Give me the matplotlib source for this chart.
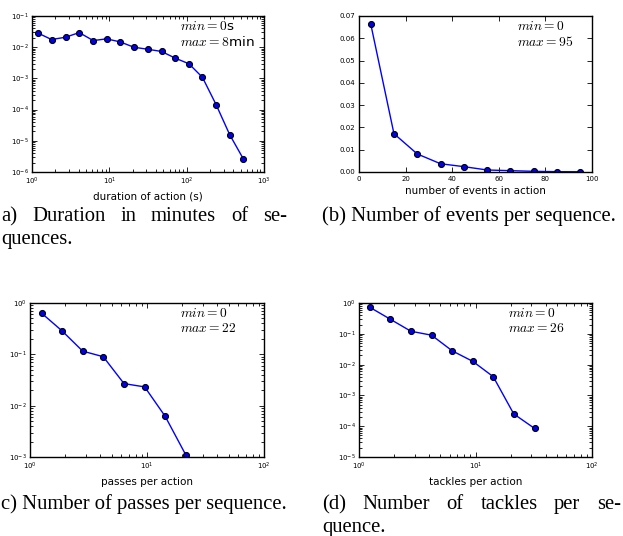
import matplotlib
matplotlib.use("Agg")
import matplotlib.pyplot as plt
from matplotlib.ticker import LogLocator, FixedLocator, FormatStrFormatter

plt.rcParams['mathtext.fontset'] = 'cm'
plt.rcParams['font.family'] = ['DejaVu Sans']

# ---- data ----
dur_x = [1.21, 1.79, 2.72, 4.08, 6.19, 9.2, 13.8, 20.7, 31.2, 47.3, 71.1, 107, 160, 240, 361, 542]
dur_y = [0.028, 0.0176, 0.0209, 0.0294, 0.0163, 0.0185, 0.0148, 0.0100, 0.0086, 0.0073,
         0.00446, 0.00294, 0.00108, 1.45e-4, 1.55e-5, 2.6e-6]

ev_x = [5, 15, 25, 35, 45, 55, 65, 75, 85, 95]
ev_y = [0.0666, 0.0172, 0.0081, 0.0037, 0.0024, 0.0009, 0.0006, 0.0003, 0.00015, 0.0001]

pass_x = [1.26, 1.88, 2.82, 4.23, 6.36, 9.55, 14.3, 21.4]
pass_y = [0.63, 0.286, 0.1155, 0.0898, 0.0269, 0.0232, 0.0062, 0.00111]

tack_x = [1.24, 1.86, 2.79, 4.2, 6.31, 9.49, 14.2, 21.3, 32.1]
tack_y = [0.724, 0.296, 0.121, 0.090, 0.028, 0.0127, 0.00405, 2.5e-4, 8.5e-5]

xlabels = ["duration of action (s)", "number of events in action",
           "passes per action", "tackles per action"]
ann = [(r"$min=0$s", r"$max=8$min"), (r"$min=0$", r"$max=95$"),
       (r"$min=0$", r"$max=22$"), (r"$min=0$", r"$max=26$")]

W, H = 623, 536
fig = plt.figure(figsize=(W / 100, H / 100), dpi=100)
fig.patch.set_facecolor('white')


def px_axes(l, t, r, b):
    return fig.add_axes([l / W, 1 - b / H, (r - l) / W, (b - t) / H])


axa = px_axes(32, 16, 264, 172)
axb = px_axes(359, 16, 592, 172)
axc = px_axes(30, 303, 264, 457)
axd = px_axes(359, 303, 592, 457)

series = [(axa, dur_x, dur_y), (axb, ev_x, ev_y), (axc, pass_x, pass_y), (axd, tack_x, tack_y)]
for i, (ax, x, y) in enumerate(series):
    ax.plot(x, y, '-', color='#0000ff', lw=1.0, marker='o', markersize=4.3,
            markerfacecolor='#0000ee', markeredgecolor='black', markeredgewidth=0.8)
    ax.set_xlabel(xlabels[i], fontsize=7.5, labelpad=3)
    ax.tick_params(which='both', direction='in', top=True, right=True, labelsize=5.0,
                   width=0.6)
    ax.tick_params(axis='x', which='both', pad=3)
    ax.tick_params(axis='y', which='both', pad=2.5)
    ax.tick_params(which='major', length=3.5)
    ax.tick_params(which='minor', length=2)
    for s in ax.spines.values():
        s.set_linewidth(1.0)
    xa = 0.64 if i != 1 else 0.68
    ax.text(xa, 0.935, ann[i][0], transform=ax.transAxes,
            fontsize=9.7, va='center', ha='left')
    ax.text(xa, 0.835, ann[i][1], transform=ax.transAxes,
            fontsize=9.7, va='center', ha='left')

for ax in (axa, axc, axd):
    ax.set_xscale('log')
    ax.set_yscale('log')
    ax.xaxis.set_minor_locator(LogLocator(base=10, subs=range(2, 10), numticks=20))
    ax.yaxis.set_minor_locator(LogLocator(base=10, subs=range(2, 10), numticks=20))

axa.set_xlim(1, 1000)
axa.set_ylim(1e-6, 1e-1)
axc.set_xlim(1, 100)
axc.set_ylim(1e-3, 1)
axd.set_xlim(1, 100)
axd.set_ylim(1e-5, 1)

axb.set_xlim(0, 100)
axb.set_ylim(0, 0.07)
axb.xaxis.set_major_locator(FixedLocator([0, 20, 40, 60, 80, 100]))
axb.yaxis.set_major_locator(FixedLocator([0, 0.01, 0.02, 0.03, 0.04, 0.05, 0.06, 0.07]))
axb.yaxis.set_major_formatter(FormatStrFormatter('%.2f'))

# ---- captions ----
cap_font = dict(family='Liberation Serif', fontsize=14.9, color='black')
renderer = fig.canvas.get_renderer()


def word_width(w):
    t = fig.text(0, 0, w, **cap_font)
    bb = t.get_window_extent(renderer=renderer)
    t.remove()
    return bb.width


def put(x_px, base_px, s):
    fig.text(x_px / W, 1 - base_px / H, s, va='baseline', ha='left', **cap_font)


def justify(x0, x1, base_px, words):
    widths = [word_width(w) for w in words]
    gap = (x1 - x0 - sum(widths)) / (len(words) - 1)
    x = x0
    for w, wd in zip(words, widths):
        put(x, base_px, w)
        x += wd + gap


justify(1, 287, 221, ["a)", "Duration", "in", "minutes", "of", "se-"])
put(1, 244, "quences.")
put(322, 221, "(b) Number of events per sequence.")
put(1, 509, "c) Number of passes per sequence.")
justify(322, 621, 509, ["(d)", "Number", "of", "tackles", "per", "se-"])
put(322, 532, "quence.")

fig.savefig("out.png", dpi=100, facecolor='white')
